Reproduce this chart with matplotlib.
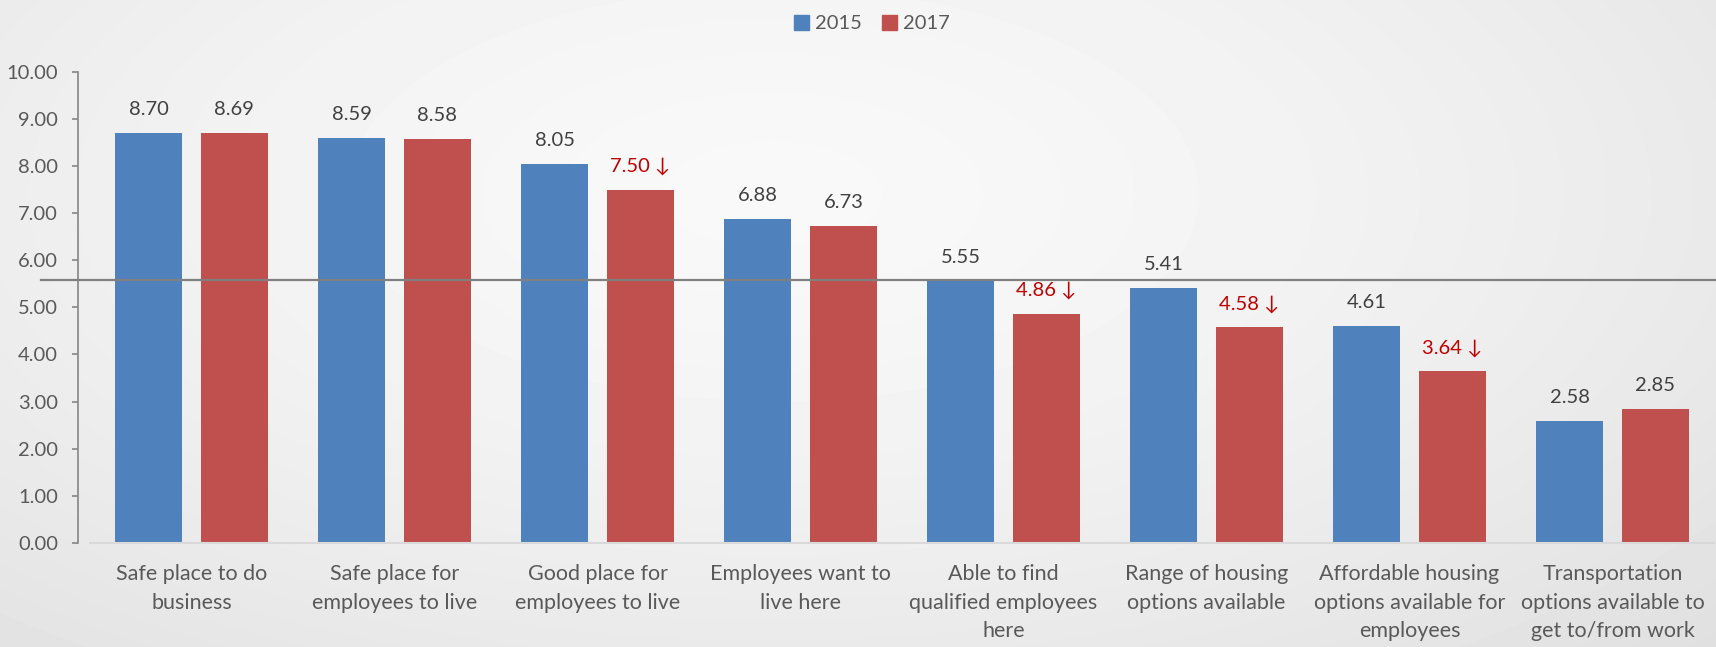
import numpy as np
import matplotlib
matplotlib.use("Agg")
import matplotlib.pyplot as plt
from matplotlib.patches import Patch

# Survey ratings (0-10 scale) for each business climate item
categories = [
    "Safe place to do\nbusiness",
    "Safe place for\nemployees to live",
    "Good place for\nemployees to live",
    "Employees want to\nlive here",
    "Able to find\nqualified employees\nhere",
    "Range of housing\noptions available",
    "Affordable housing\noptions available for\nemployees",
    "Transportation\noptions available to\nget to/from work",
]
score_2015 = [8.70, 8.59, 8.05, 6.88, 5.55, 5.41, 4.61, 2.58]
score_2017 = [8.69, 8.58, 7.50, 6.73, 4.86, 4.58, 3.64, 2.85]
# 2017 items marked as a notable drop
dropped_2017 = [False, False, True, False, True, True, True, False]
ref_level = 5.57
yticks = [0, 1, 2, 3, 4, 5, 6, 7, 8, 9, 10]

BLUE = "#4f81bd"
RED = "#c0504d"
TEXT = "#595959"
LABEL = "#404040"
DROP = "#c00000"

plt.rcParams["font.family"] = ["Lato", "DejaVu Sans"]

W, H, DPI = 1716, 647, 100
fig = plt.figure(figsize=(W / DPI, H / DPI), dpi=DPI)

# soft grey backdrop, lighter toward the upper middle
bg = fig.add_axes([0, 0, 1, 1], zorder=-10)
yy, xx = np.mgrid[0:H, 0:W]
r = np.sqrt(((xx - 0.45 * W) / (0.7 * W)) ** 2 + ((yy - 0.3 * H) / (0.9 * H)) ** 2)
shade = 0.975 - 0.085 * np.clip(r, 0, 1.3) ** 1.5
bg.imshow(shade, cmap="gray", vmin=0, vmax=1, aspect="auto", interpolation="bilinear")
bg.axis("off")

ax = fig.add_axes([90 / W, 104 / H, 1624 / W, 471.3 / H])
ax.patch.set_alpha(0)

x = np.arange(len(categories))
bw = 0.33
off = 0.211
ax.bar(x - off, score_2015, width=bw, color=BLUE, zorder=2)
ax.bar(x + off, score_2017, width=bw, color=RED, zorder=2)

for xi, v in zip(x - off, score_2015):
    ax.annotate(f"{v:.2f}", (xi, v), xytext=(0, 13), textcoords="offset points",
                ha="center", va="baseline", fontsize=14.5, color=LABEL)
for xi, v, d in zip(x + off, score_2017, dropped_2017):
    txt = f"{v:.2f} \u2193" if d else f"{v:.2f}"
    ax.annotate(txt, (xi, v), xytext=(0, 13), textcoords="offset points",
                ha="center", va="baseline", fontsize=14.5,
                color=DROP if d else LABEL)

ax.axhline(ref_level, xmin=(41 - 90) / 1624, xmax=1.002, color="#808080",
           lw=1.6, clip_on=False, zorder=3)

ax.set_xlim(-0.5, len(categories) - 0.5)
ax.set_ylim(0, 10)
ax.set_yticks(yticks)
ax.set_yticklabels([f"{v:.2f}" for v in yticks])
ax.set_xticks(x)
ax.set_xticklabels(categories)
for lbl in ax.get_xticklabels():
    lbl.set_linespacing(1.55)

ax.tick_params(axis="x", length=0, pad=15, labelsize=15.5, labelcolor=TEXT)
ax.tick_params(axis="y", direction="out", length=4.5, width=1.2, color="#868686",
               pad=10, labelsize=14.5, labelcolor=TEXT)

for s in ["top", "right"]:
    ax.spines[s].set_visible(False)
ax.spines["left"].set_position(("outward", 8.6))
ax.spines["left"].set_color("#868686")
ax.spines["left"].set_linewidth(1.2)
ax.spines["bottom"].set_color("#d9d9d9")
ax.spines["bottom"].set_linewidth(1.5)

handles = [Patch(color=BLUE, label="2015"), Patch(color=RED, label="2017")]
fig.legend(handles=handles, loc="upper center", bbox_to_anchor=(872 / W, 1.005),
           ncol=2, frameon=False, fontsize=14.5, handlelength=0.75, handleheight=0.75,
           handletextpad=0.3, columnspacing=1.0, labelcolor=TEXT)

fig.savefig("out.png", dpi=DPI)
